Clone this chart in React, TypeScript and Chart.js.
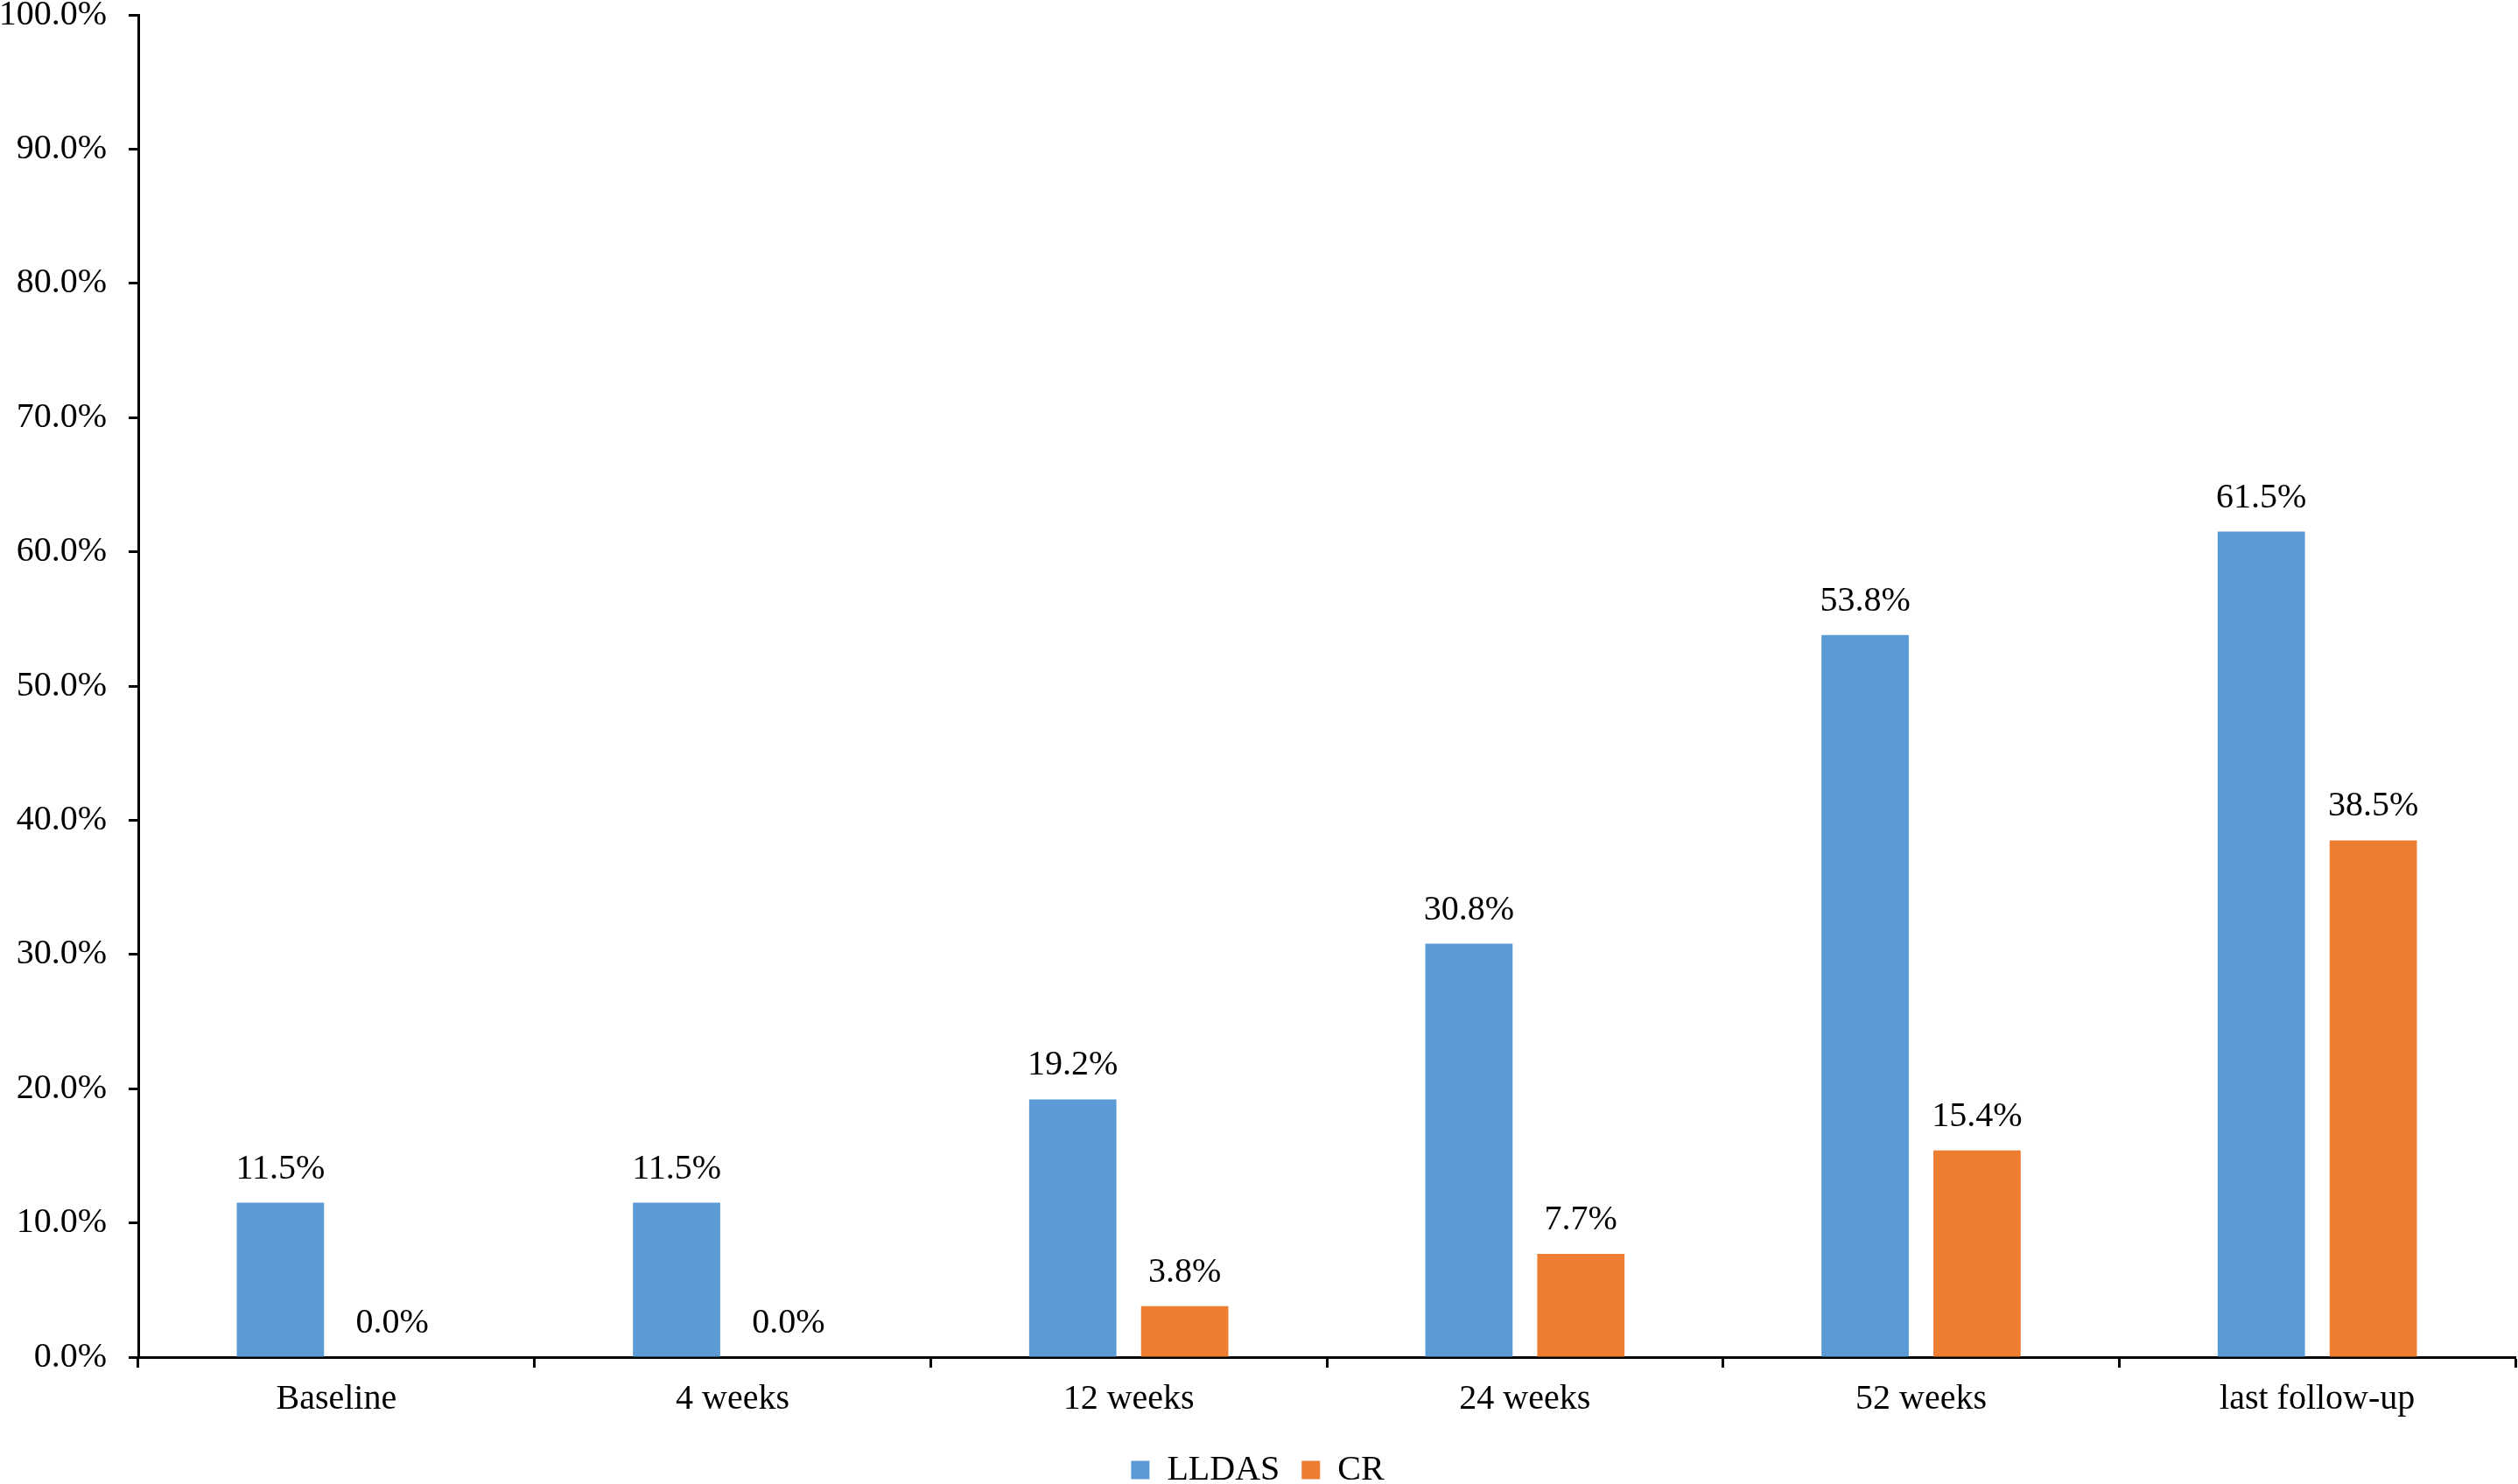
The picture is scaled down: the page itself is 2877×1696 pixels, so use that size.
import { useEffect, useRef } from 'react'
import { Chart, registerables } from 'chart.js'

Chart.register(...registerables)

const categories = ['Baseline', '4 weeks', '12 weeks', '24 weeks', '52 weeks', 'last follow-up']
const lldas = [11.5, 11.5, 19.2, 30.8, 53.8, 61.5]
const cr = [0.0, 0.0, 3.8, 7.7, 15.4, 38.5]

const FONT = '"Liberation Serif", "Times New Roman", serif'

// value labels above each bar
const valueLabels = {
  id: 'valueLabels',
  afterDatasetsDraw(chart: any) {
    const ctx = chart.ctx
    ctx.save()
    ctx.font = `40px ${FONT}`
    ctx.fillStyle = '#000'
    ctx.textAlign = 'center'
    ctx.textBaseline = 'alphabetic'
    chart.data.datasets.forEach((ds: any, i: number) => {
      const meta = chart.getDatasetMeta(i)
      meta.data.forEach((bar: any, j: number) => {
        ctx.fillText(ds.data[j].toFixed(1) + '%', bar.x, bar.y - 28)
      })
    })
    ctx.restore()
  },
}

export default function App() {
  const canvasRef = useRef<HTMLCanvasElement>(null)

  useEffect(() => {
    if (!canvasRef.current) return
    Chart.defaults.font.family = FONT
    Chart.defaults.font.size = 40
    Chart.defaults.color = '#000'

    const chart = new Chart(canvasRef.current, {
      type: 'bar',
      data: {
        labels: categories,
        datasets: [
          { label: 'LLDAS', data: lldas, backgroundColor: '#5B9BD5', borderWidth: 0 },
          { label: 'CR', data: cr, backgroundColor: '#ED7D31', borderWidth: 0 },
        ],
      },
      options: {
        animation: false,
        responsive: true,
        maintainAspectRatio: false,
        categoryPercentage: 0.565,
        barPercentage: 0.78,
        layout: { padding: { left: 0, right: 3, top: 0, bottom: 0 } },
        plugins: {
          tooltip: { enabled: false },
          legend: {
            position: 'bottom',
            labels: { boxWidth: 21, boxHeight: 21, padding: 25, font: { size: 40 } },
          },
        },
        scales: {
          x: {
            border: { display: true, color: '#000', width: 3 },
            grid: { display: true, drawOnChartArea: false, tickLength: 12, tickWidth: 3, tickColor: '#000' },
            ticks: { padding: 12, font: { size: 40 }, maxRotation: 0 },
          },
          y: {
            min: 0,
            max: 100,
            afterFit(scale: any) { scale.width = 158 },
            border: { display: true, color: '#000', width: 3 },
            grid: { display: true, drawOnChartArea: false, tickLength: 11, tickWidth: 3, tickColor: '#000' },
            ticks: {
              stepSize: 10,
              padding: 25,
              font: { size: 40 },
              callback: (v: any) => Number(v).toFixed(1) + '%',
            },
          },
        },
      },
      plugins: [valueLabels],
    })
    return () => { chart.destroy() }
  }, [])

  return (
    <div style={{ position: 'fixed', left: 0, top: -32, width: 2877, height: 1742, background: '#fff' }}>
      <canvas ref={canvasRef} />
    </div>
  )
}
